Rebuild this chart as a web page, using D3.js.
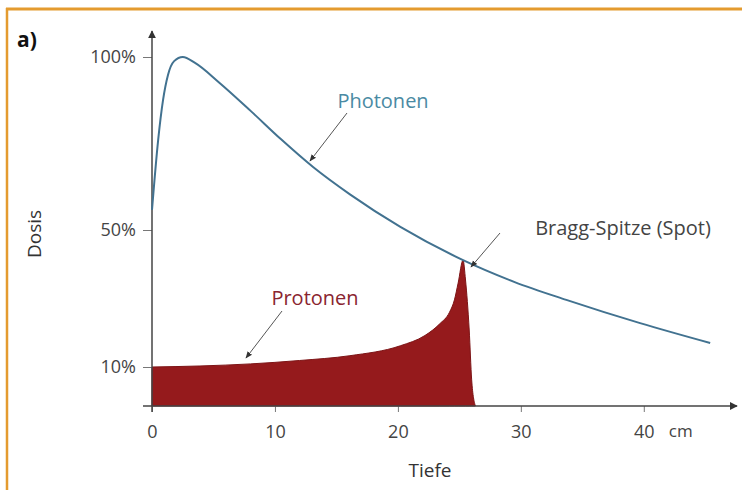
<!DOCTYPE html>
<html>
<head>
<meta charset="utf-8">
<script src="https://d3js.org/d3.v7.min.js"></script>
<style>
  body { margin: 0; background: #fff; }
  text { font-family: "Open Sans", sans-serif; }
</style>
</head>
<body>
  <div id="chart"></div>
  <script>
    // depth in cm, dose in %
    var photonDepth = [0, 0.5, 0.9, 1.3, 1.8, 2.5, 3.5, 5.5, 8, 10.5, 13.1, 16.1, 20.2, 25.3, 29.5, 33.7, 39.7, 45.4];
    var photonDose  = [55.8, 76, 87.6, 94.8, 98.8, 100, 98.3, 92.5, 84.5, 76.2, 68.2, 60.3, 50.9, 41.2, 34.8, 29.6, 22.8, 17];
    var protonDepth = [0, 3.9, 8, 12, 16.1, 20.2, 22.2, 23.4, 24.2, 24.6, 24.9, 25.3, 25.5, 25.8, 26, 26.3];
    var protonDose  = [10, 10.3, 10.9, 11.9, 13.3, 16.2, 19.2, 22.6, 26, 29.6, 34.5, 41.2, 35.4, 20.8, 6.7, 0];
    var xTicks = [0, 10, 20, 30, 40];
    var yTicks = [10, 50, 100];

    var W = 742, H = 490;
    var svg = d3.select("#chart").append("svg")
      .attr("width", W).attr("height", H);

    // orange frame (top + left only)
    svg.append("line").attr("x1", 6).attr("y1", 9).attr("x2", W).attr("y2", 9)
      .style("stroke", "#e49b2f").style("stroke-width", 3);
    svg.append("line").attr("x1", 7).attr("y1", 8).attr("x2", 7).attr("y2", H)
      .style("stroke", "#e49b2f").style("stroke-width", 2.5);

    var x = d3.scaleLinear().domain([0, 47.5]).range([152, 736]);
    var y = d3.scaleLinear().domain([0, 10, 50, 100]).range([406, 367, 230, 57]);

    var defs = svg.append("defs");
    defs.append("marker").attr("id", "arr")
      .attr("viewBox", "0 0 10 10").attr("refX", 9).attr("refY", 5)
      .attr("markerWidth", 7).attr("markerHeight", 7).attr("orient", "auto")
      .append("path").attr("d", "M0,1L10,5L0,9Z").style("fill", "#333");
    defs.append("marker").attr("id", "axarr")
      .attr("viewBox", "0 0 10 10").attr("refX", 9).attr("refY", 5)
      .attr("markerWidth", 8).attr("markerHeight", 8).attr("markerUnits", "userSpaceOnUse")
      .attr("orient", "auto")
      .append("path").attr("d", "M0,0L10,5L0,10Z").style("fill", "#333");

    // protons
    var protons = protonDepth.map(function (d, i) { return [d, protonDose[i]]; });
    svg.append("path").datum(protons)
      .attr("d", d3.area().x(function (d) { return x(d[0]); })
        .y0(y(0)).y1(function (d) { return y(d[1]); })
        .curve(d3.curveMonotoneX))
      .style("fill", "#951a1c")
      .style("stroke", "#7d1416").style("stroke-width", 1);

    // axes
    var gx = svg.append("g").attr("transform", "translate(0," + y(0) + ")");
    gx.call(d3.axisBottom(x).tickValues(d3.range(1, 47)).tickSize(4).tickFormat(""));
    gx.call(d3.axisBottom(x).tickValues(xTicks).tickSize(6).tickFormat(d3.format("d")));
    gx.select(".domain").remove();
    gx.selectAll(".tick line").style("stroke", "#777");
    gx.selectAll(".tick text").attr("dy", "1.25em")
      .style("font-size", "18px").style("fill", "#444");
    svg.append("line").attr("x1", 143).attr("x2", 737).attr("y1", y(0)).attr("y2", y(0))
      .style("stroke", "#444").style("stroke-width", 1.5).attr("marker-end", "url(#axarr)");
    svg.append("text").attr("x", x(40) + 37).attr("y", 437).text("cm")
      .style("font-size", "17px").style("fill", "#444").attr("text-anchor", "middle");

    var gy = svg.append("g").attr("transform", "translate(" + x(0) + ",0)");
    gy.call(d3.axisLeft(y).tickValues(yTicks).tickSize(9)
      .tickFormat(function (d) { return d + "%"; }));
    gy.select(".domain").remove();
    gy.selectAll(".tick line").style("stroke", "#777");
    gy.selectAll(".tick text").attr("x", -16)
      .style("font-size", "18px").style("fill", "#444");
    svg.append("line").attr("x1", x(0)).attr("x2", x(0)).attr("y1", 412).attr("y2", 31)
      .style("stroke", "#444").style("stroke-width", 1.5).attr("marker-end", "url(#axarr)");

    // photons
    var photons = photonDepth.map(function (d, i) { return [d, photonDose[i]]; });
    svg.append("path").datum(photons)
      .attr("d", d3.line().x(function (d) { return x(d[0]); })
        .y(function (d) { return y(d[1]); })
        .curve(d3.curveMonotoneX))
      .style("fill", "none").style("stroke", "#427290").style("stroke-width", 2);

    // labels
    svg.append("text").attr("x", 17).attr("y", 47).text("a)")
      .style("font-size", "21px").style("font-weight", "bold").style("fill", "#111");
    svg.append("text").attr("transform", "translate(41,234) rotate(-90)")
      .attr("text-anchor", "middle").text("Dosis")
      .style("font-size", "19px").style("fill", "#333");
    svg.append("text").attr("x", 430).attr("y", 477).attr("text-anchor", "middle").text("Tiefe")
      .style("font-size", "19px").style("fill", "#333");

    // annotations
    svg.append("text").attr("x", 383).attr("y", 108).attr("text-anchor", "middle")
      .text("Photonen").style("font-size", "20px").style("fill", "#4a8aa3");
    svg.append("line").attr("x1", 347).attr("y1", 113).attr("x2", 310).attr("y2", 161)
      .style("stroke", "#555").style("stroke-width", 1).attr("marker-end", "url(#arr)");

    svg.append("text").attr("x", 315).attr("y", 305).attr("text-anchor", "middle")
      .text("Protonen").style("font-size", "20px").style("fill", "#8a2530");
    svg.append("line").attr("x1", 282).attr("y1", 311).attr("x2", 246).attr("y2", 358)
      .style("stroke", "#555").style("stroke-width", 1).attr("marker-end", "url(#arr)");

    svg.append("text").attr("x", 623).attr("y", 235).attr("text-anchor", "middle")
      .text("Bragg-Spitze (Spot)").style("font-size", "20px").style("fill", "#444");
    svg.append("line").attr("x1", 500).attr("y1", 233).attr("x2", 471).attr("y2", 267)
      .style("stroke", "#555").style("stroke-width", 1).attr("marker-end", "url(#arr)");
  </script>
</body>
</html>
